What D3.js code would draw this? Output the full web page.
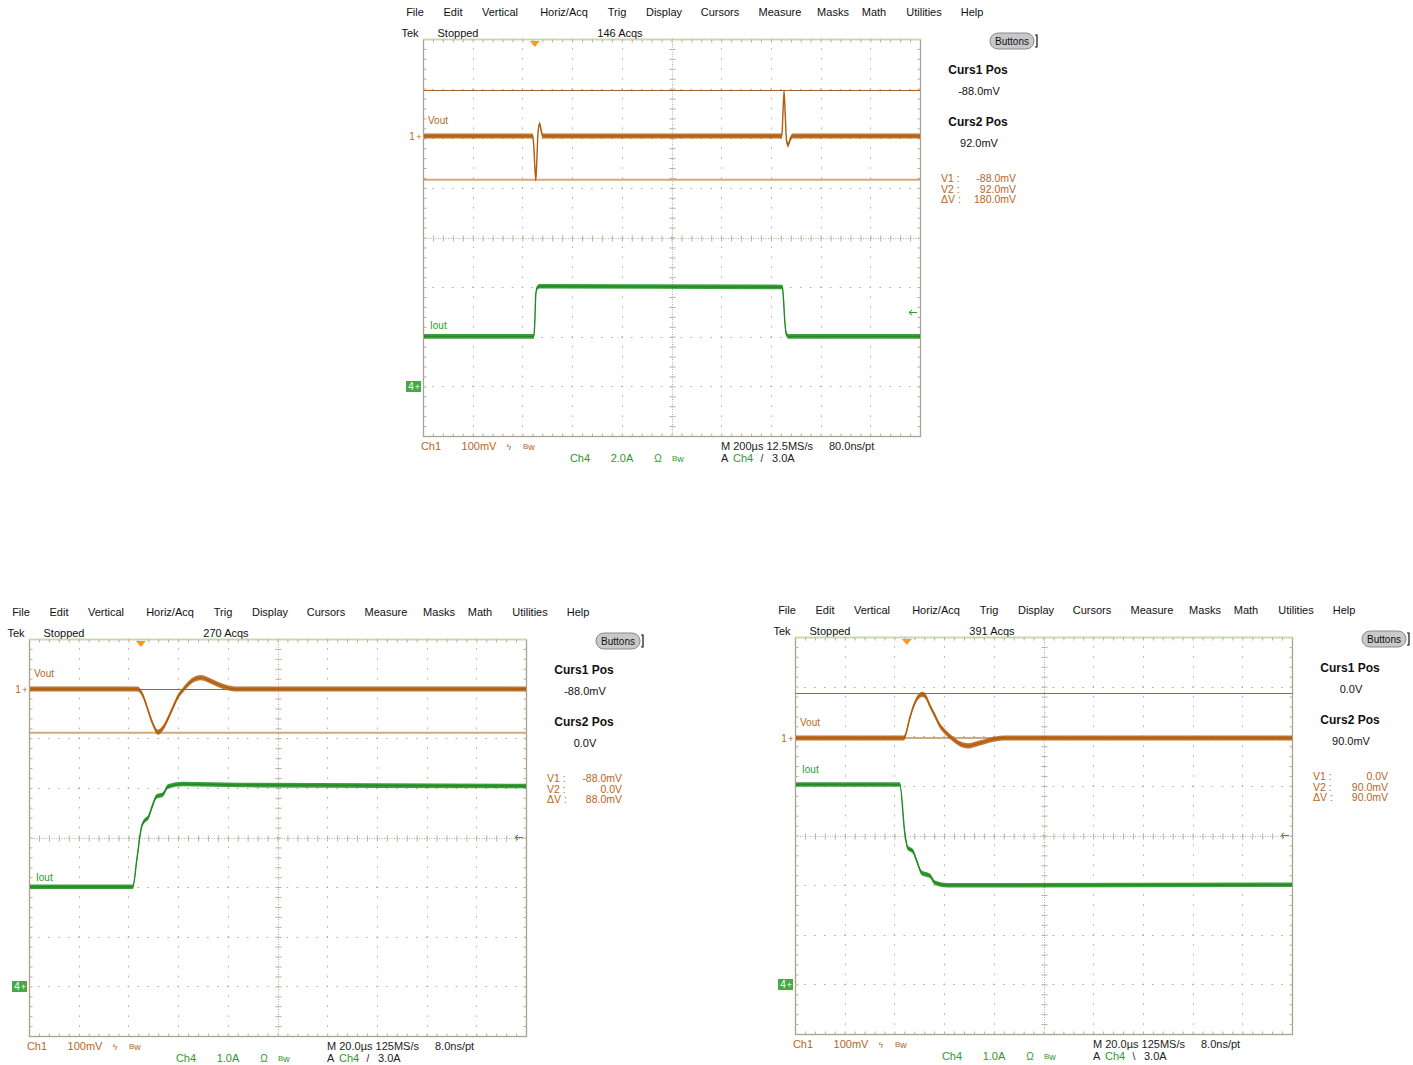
<!DOCTYPE html>
<html><head><meta charset="utf-8">
<script src="https://cdn.jsdelivr.net/npm/d3@7"></script>
<style>
html,body{margin:0;padding:0;background:#fff;}
svg{display:block;font-family:"Liberation Sans",Arial,sans-serif;}
</style></head><body>
<svg id="c" width="1413" height="1065"></svg>
<script>
// ---------------- DATA ----------------
const menuItems = ["File","Edit","Vertical","Horiz/Acq","Trig","Display","Cursors","Measure","Masks","Math","Utilities","Help"];
const acqCounts = ["146 Acqs","270 Acqs","391 Acqs"];
const timePerDiv = [200, 20, 20];            // µs/div
const ch4PerDiv = [2.0, 1.0, 1.0];           // A/div
const ch4Labels = ["2.0A","1.0A","1.0A"];
const horizLabels = ["M 200\u00b5s 12.5MS/s","M 20.0\u00b5s 125MS/s","M 20.0\u00b5s 125MS/s"];
const ptLabels = ["80.0ns/pt","8.0ns/pt","8.0ns/pt"];
const trigSlopes = ["/","/","\\"];
const curs1mV = [-88, -88, 0];
const curs2mV = [92, 0, 90];
const curs1Labels = ["-88.0mV","-88.0mV","0.0V"];
const curs2Labels = ["92.0mV","0.0V","90.0mV"];
const deltaLabels = ["180.0mV","88.0mV","90.0mV"];
const trigLevelA = 3.0;

// traces: [time µs relative to trigger, value]
const topVout = [[-450,0],[-8,0],[-4,-22],[0,-62],[4,-88],[8,-50],[12,0],[16,20],[20,24],[26,10],[32,0],
                 [994,0],[998,40],[1003,90],[1008,40],[1013,-10],[1019,-18],[1028,-6],[1037,0],[1550,0]];
const topIout = [[-450,2.0],[-4,2.0],[0,2.6],[4,3.7],[10,3.97],[20,4.02],[996,3.99],[1000,3.6],[1006,2.6],[1012,2.1],[1020,2.0],[1550,2.0]];
const blVout = [[-45,0],[-1.4,0],[1,-15],[2.4,-35],[4.8,-70],[6.9,-87],[8.7,-80],[12.5,-42],[15,-15],[17.3,0],
                [20.6,17],[24.2,23],[28.6,15],[33.9,4],[38,0],[155,0]];
const blIout = [[-45,2.0],[-3.2,2.0],[-1.6,2.55],[0.3,3.21],[1.5,3.33],[2.9,3.39],[4.8,3.65],[6.3,3.82],[8.9,3.86],
                [10.9,4.02],[16.9,4.07],[40,4.05],[155,4.03]];
const brVout = [[-45,0],[-1.2,0],[1.2,40],[2.4,60],[3.6,75],[5,85],[6.4,88],[7.8,82],[9.3,65],[11.3,45],[13.3,25],
                [15.5,12],[18.1,0],[21.4,-12],[24.6,-16],[29.4,-10],[35.5,-2],[39.5,0],[155,0]];
const brIout = [[-45,4.02],[-2.8,4.02],[-0.8,3.04],[0.4,2.74],[2.4,2.68],[4.0,2.48],[6.0,2.24],[9.3,2.18],
                [11.3,2.04],[16.1,1.99],[155,2.0]];

// ---------------- LAYOUT ----------------
const W = 497, H = 397, NDX = 10, NDY = 8, MINOR = 5;
const menuX = [-8,30,77,141,194,241,297,357,410,451,501,549];
const panels = [
  {i:0, gx:423, gy:39,  ch1Zero:97,  ch4Zero:347, vout:topVout, iout:topIout, ioutDy:-11},
  {i:1, gx:29,  gy:639, ch1Zero:50,  ch4Zero:347, vout:blVout,  iout:blIout,  ioutDy:-10},
  {i:2, gx:795, gy:637, ch1Zero:101, ch4Zero:347, vout:brVout,  iout:brIout,  ioutDy:-16}
];
const C = {grid:"#b8af9b", border:"#aaa290", topBorder:"#c6dba6", vout:"#b35d0c", iout:"#1e8c1e",
           orangeText:"#b8661e", greenText:"#2c9a2c", cur1:"#d4a878", cur2:"#a8642a", trig:"#f39a2a"};

const svg = d3.select("#c");

function txt(g, x, y, s, opt={}){
  const t = g.append("text").attr("x",x).attr("y",y).text(s)
    .attr("font-size", opt.size||11).attr("fill", opt.fill||"#111")
    .attr("text-anchor", opt.anchor||"start");
  if(opt.bold) t.attr("font-weight","bold");
  return t;
}

function drawPanel(p){
  const k = p.i;
  const g = svg.append("g");
  const gxS = d3.scaleLinear().domain([0,NDX]).range([p.gx, p.gx+W]);
  const gyS = d3.scaleLinear().domain([0,NDY]).range([p.gy, p.gy+H]);
  const tDiv = timePerDiv[k];
  const x = d3.scaleLinear().domain([-2.25*tDiv, 7.75*tDiv]).range([p.gx, p.gx+W]);
  const yV = d3.scaleLinear().domain([0,100]).range([p.gy+p.ch1Zero, p.gy+p.ch1Zero-H/NDY]);
  const yI = d3.scaleLinear().domain([0,ch4PerDiv[k]]).range([p.gy+p.ch4Zero, p.gy+p.ch4Zero-H/NDY]);
  const minX = d3.range(1, NDX*MINOR).map(i=>i/MINOR);
  const minY = d3.range(1, NDY*MINOR).map(i=>i/MINOR);
  const stepX = W/NDX/MINOR, stepY = H/NDY/MINOR;

  // ---- menu & status
  menuItems.forEach((m,j)=>txt(g, p.gx+menuX[j], p.gy-23, m, {anchor:"middle"}));
  txt(g, p.gx-13, p.gy-2, "Tek", {anchor:"middle"});
  txt(g, p.gx+35, p.gy-2, "Stopped", {anchor:"middle"});
  txt(g, p.gx+197, p.gy-2, acqCounts[k], {anchor:"middle"});
  // Buttons pill
  g.append("rect").attr("x",p.gx+567).attr("y",p.gy-6).attr("width",44).attr("height",16).attr("rx",8)
    .attr("fill","#c9c9c9").attr("stroke","#8a8a8a");
  txt(g, p.gx+589, p.gy+6, "Buttons", {anchor:"middle", size:10});
  g.append("path").attr("d",`M${p.gx+612},${p.gy-4}h2v12h-2`).attr("fill","none").attr("stroke","#111").attr("stroke-width",1.2);

  // ---- grid
  const grid = g.append("g");
  grid.append("rect").attr("x",p.gx+0.5).attr("y",p.gy+0.5).attr("width",W).attr("height",H)
    .attr("fill","none").attr("stroke",C.border).attr("stroke-width",1.3);
  grid.append("line").attr("x1",p.gx).attr("x2",p.gx+W+1).attr("y1",p.gy+0.5).attr("y2",p.gy+0.5)
    .attr("stroke",C.topBorder).attr("stroke-width",1.5);
  d3.range(1,NDX).filter(i=>i!==NDX/2).forEach(i=>{
    grid.append("line").attr("x1",Math.round(gxS(i))+0.5).attr("x2",Math.round(gxS(i))+0.5)
      .attr("y1",p.gy).attr("y2",p.gy+H).attr("stroke",C.grid)
      .attr("stroke-dasharray",`1.6 ${stepY-1.6}`).attr("stroke-dashoffset",0.8);
  });
  d3.range(1,NDY).filter(i=>i!==NDY/2).forEach(i=>{
    grid.append("line").attr("y1",Math.round(gyS(i))+0.5).attr("y2",Math.round(gyS(i))+0.5)
      .attr("x1",p.gx).attr("x2",p.gx+W).attr("stroke",C.grid)
      .attr("stroke-dasharray",`1.6 ${stepX-1.6}`).attr("stroke-dashoffset",0.8);
  });
  const cx = Math.round(gxS(NDX/2))+0.5, cy = Math.round(gyS(NDY/2))+0.5;
  grid.append("line").attr("x1",cx).attr("x2",cx).attr("y1",p.gy).attr("y2",p.gy+H)
    .attr("stroke",C.grid).attr("stroke-dasharray","1 1.5");
  grid.append("line").attr("y1",cy).attr("y2",cy).attr("x1",p.gx).attr("x2",p.gx+W)
    .attr("stroke",C.grid).attr("stroke-dasharray","1 1.5");
  function ax(axis, tr){
    const a = grid.append("g").attr("transform",tr).call(axis);
    a.select(".domain").remove();
    a.selectAll("line").attr("stroke",C.grid);
    a.selectAll("text").remove();
  }
  ax(d3.axisBottom(gxS).tickValues(minX).tickSize(3).tickFormat(""), `translate(0,${p.gy+0.5})`);
  ax(d3.axisTop(gxS).tickValues(minX).tickSize(3).tickFormat(""), `translate(0,${p.gy+H+0.5})`);
  ax(d3.axisRight(gyS).tickValues(minY).tickSize(3).tickFormat(""), `translate(${p.gx+0.5},0)`);
  ax(d3.axisLeft(gyS).tickValues(minY).tickSize(3).tickFormat(""), `translate(${p.gx+W+0.5},0)`);
  ax(d3.axisBottom(gxS).tickValues(minX).tickSize(3).tickFormat(""), `translate(0,${cy})`);
  ax(d3.axisTop(gxS).tickValues(minX).tickSize(3).tickFormat(""), `translate(0,${cy})`);
  ax(d3.axisRight(gyS).tickValues(minY).tickSize(3).tickFormat(""), `translate(${cx},0)`);
  ax(d3.axisLeft(gyS).tickValues(minY).tickSize(3).tickFormat(""), `translate(${cx},0)`);

  // clip
  const cid = "clip"+k;
  svg.append("clipPath").attr("id",cid).append("rect")
    .attr("x",p.gx+1).attr("y",p.gy+1).attr("width",W-1).attr("height",H-1);
  const plot = g.append("g").attr("clip-path",`url(#${cid})`);

  // cursors
  plot.append("line").attr("x1",p.gx).attr("x2",p.gx+W).attr("y1",yV(curs1mV[k])).attr("y2",yV(curs1mV[k]))
    .attr("stroke",C.cur1).attr("stroke-width",2);
  plot.append("line").attr("x1",p.gx).attr("x2",p.gx+W).attr("y1",Math.round(yV(curs2mV[k]))+0.5).attr("y2",Math.round(yV(curs2mV[k]))+0.5)
    .attr("stroke",C.cur2).attr("stroke-width",1.2);

  // traces
  function trace(data, y, color, band){
    const area = d3.area().x(d=>x(d[0])).y0(d=>y(d[1])-band).y1(d=>y(d[1])+band).curve(d3.curveMonotoneX);
    const line = d3.line().x(d=>x(d[0])).y(d=>y(d[1])).curve(d3.curveMonotoneX);
    plot.append("path").attr("d",area(data)).attr("fill",color).attr("opacity",0.85);
    plot.append("path").attr("d",line(data)).attr("fill","none").attr("stroke",color).attr("stroke-width",1.4);
  }
  trace(p.vout, yV, C.vout, 2.6);
  trace(p.iout, yI, C.iout, 2.3);

  // trace labels
  txt(g, p.gx+5, yV(0)-12, "Vout", {size:10, fill:C.orangeText});
  txt(g, p.gx+7, yI(p.iout[0][1])+p.ioutDy+4, "Iout", {size:10, fill:C.greenText});

  // trigger position marker
  const tx = x(0);
  g.append("path").attr("d",`M${tx-5},${p.gy+2}L${tx+5},${p.gy+2}L${tx},${p.gy+8}Z`).attr("fill",C.trig);
  // trigger level arrow
  const ty = Math.round(yI(trigLevelA))+0.5;
  g.append("path").attr("d",`M${p.gx+W-11},${ty}h8 M${p.gx+W-11},${ty}l3,-2.5 M${p.gx+W-11},${ty}l3,2.5`)
    .attr("stroke",C.greenText).attr("fill","none").attr("stroke-width",1);

  // channel markers
  txt(g, p.gx-11, yV(0)+4, "1", {anchor:"middle", size:10, fill:C.orangeText});
  txt(g, p.gx-4, yV(0)+3.5, "+", {anchor:"middle", size:9, fill:C.orangeText});
  const g4 = yI(0);
  g.append("rect").attr("x",p.gx-17).attr("y",g4-5).attr("width",15).attr("height",11).attr("fill","#44ab44");
  txt(g, p.gx-12, g4+4, "4", {anchor:"middle", size:10, fill:"#fff"});
  txt(g, p.gx-5.5, g4+3.5, "+", {anchor:"middle", size:9, fill:"#fff"});

  // right cursor readouts
  txt(g, p.gx+555, p.gy+35, "Curs1 Pos", {anchor:"middle", size:12, bold:true});
  txt(g, p.gx+556, p.gy+56, curs1Labels[k], {anchor:"middle", size:11});
  txt(g, p.gx+555, p.gy+87, "Curs2 Pos", {anchor:"middle", size:12, bold:true});
  txt(g, p.gx+556, p.gy+108, curs2Labels[k], {anchor:"middle", size:11});
  const vl = ["V1 :","V2 :","\u0394V :"], vv = [curs1Labels[k], curs2Labels[k], deltaLabels[k]];
  vl.forEach((s,j)=>{
    txt(g, p.gx+518, p.gy+143+j*10.5, s, {size:10.5, fill:C.orangeText});
    txt(g, p.gx+593, p.gy+143+j*10.5, vv[j], {size:10.5, fill:C.orangeText, anchor:"end"});
  });

  // bottom readouts
  const r1 = p.gy+H+14, r2 = p.gy+H+26;
  txt(g, p.gx+8, r1, "Ch1", {anchor:"middle", fill:C.orangeText});
  txt(g, p.gx+56, r1, "100mV", {anchor:"middle", fill:C.orangeText});
  txt(g, p.gx+86, r1, "\u03df", {anchor:"middle", size:9, fill:C.orangeText});
  txt(g, p.gx+100, r1-1, "B", {size:8, fill:C.orangeText}).append("tspan").attr("font-size",9).attr("dy",1).text("w");
  txt(g, p.gx+157, r2, "Ch4", {anchor:"middle", fill:C.greenText});
  txt(g, p.gx+199, r2, ch4Labels[k], {anchor:"middle", fill:C.greenText});
  txt(g, p.gx+235, r2, "\u03a9", {anchor:"middle", size:10, fill:C.greenText});
  txt(g, p.gx+249, r2-1, "B", {size:8, fill:C.greenText}).append("tspan").attr("font-size",9).attr("dy",1).text("w");
  txt(g, p.gx+298, r1, horizLabels[k], {fill:"#222"});
  txt(g, p.gx+406, r1, ptLabels[k], {fill:"#222"});
  txt(g, p.gx+298, r2, "A", {fill:"#222"});
  txt(g, p.gx+310, r2, "Ch4", {fill:C.greenText});
  txt(g, p.gx+339, r2, trigSlopes[k], {anchor:"middle", size:10, fill:"#222"});
  txt(g, p.gx+349, r2, "3.0A", {fill:"#222"});
}
panels.forEach(drawPanel);
</script>
</body></html>
